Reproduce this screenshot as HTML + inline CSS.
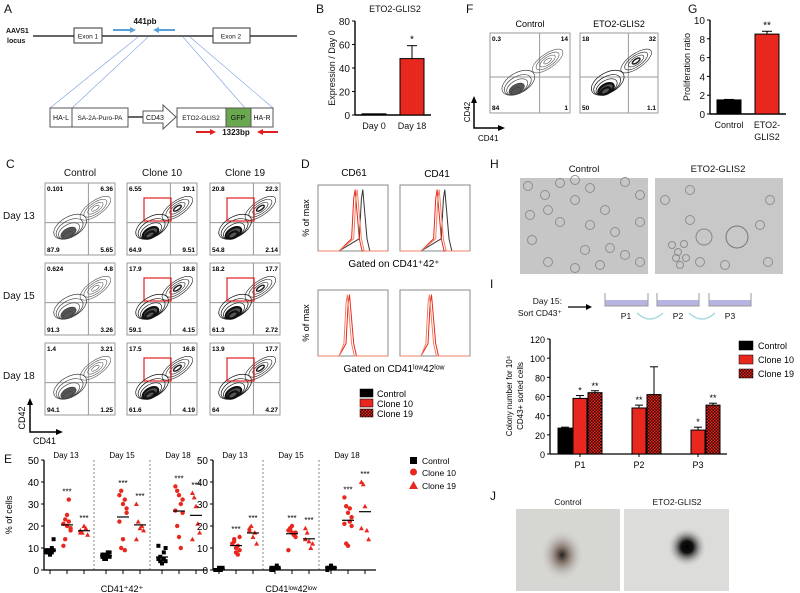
<!DOCTYPE html>
<html><head><meta charset="utf-8"><style>
body{margin:0;background:#fff;}
svg{display:block;font-family:"Liberation Sans",sans-serif;}
.t{fill:#111}
.lbl{font-size:12px;fill:#111}
</style></head><body>
<svg id="fig" width="800" height="593" viewBox="0 0 800 593">
<defs>
<pattern id="chk" width="3" height="3" patternUnits="userSpaceOnUse"><rect width="3" height="3" fill="#e8281f"/><rect width="1.5" height="1.5" fill="#300"/><rect x="1.5" y="1.5" width="1.5" height="1.5" fill="#300"/></pattern>
<radialGradient id="blob1"><stop offset="0" stop-color="#222"/><stop offset="0.25" stop-color="#7a6a60"/><stop offset="1" stop-color="#d8d8d6" stop-opacity="0"/></radialGradient>
<radialGradient id="blob2"><stop offset="0" stop-color="#000"/><stop offset="0.3" stop-color="#111"/><stop offset="1" stop-color="#ddd" stop-opacity="0"/></radialGradient>
</defs>

<!-- Panel A -->
<g>
<text x="4" y="13" class="lbl">A</text>
<text x="6" y="33" class="t" font-weight="bold" font-size="7">AAVS1</text>
<text x="7" y="43" class="t" font-weight="bold" font-size="7">locus</text>
<line x1="33" y1="36" x2="297" y2="36" stroke="#333" stroke-width="1.5"/>
<rect x="74" y="28" width="28" height="15" fill="#fff" stroke="#333"/><text x="88" y="38.5" class="t" text-anchor="middle" font-size="6.5">Exon 1</text>
<rect x="213" y="28" width="37" height="15" fill="#fff" stroke="#333"/><text x="231" y="38.5" class="t" text-anchor="middle" font-size="6.5">Exon 2</text>
<text x="145" y="24" class="t" font-weight="bold" text-anchor="middle" font-size="8">441pb</text>
<line x1="113" y1="30" x2="133" y2="30" stroke="#5aa0dc" stroke-width="2"/><polygon points="136,30 130,27 130,33" fill="#5aa0dc"/>
<line x1="157" y1="30" x2="175" y2="30" stroke="#5aa0dc" stroke-width="2"/><polygon points="153,30 159,27 159,33" fill="#5aa0dc"/>
<g stroke="#7fa0e0" stroke-width="0.6"><line x1="138" y1="37" x2="50" y2="108"/><line x1="148" y1="37" x2="72" y2="108"/><line x1="183" y1="37" x2="245" y2="108"/><line x1="190" y1="37" x2="273" y2="108"/></g>
<line x1="128" y1="117" x2="143" y2="117" stroke="#333" stroke-width="1.5"/>
<rect x="50" y="108" width="22" height="19" fill="#fff" stroke="#555"/><text x="61" y="120" class="t" text-anchor="middle" font-size="7">HA-L</text>
<rect x="72" y="108" width="56" height="19" fill="#fff" stroke="#555"/><text x="100" y="120" class="t" text-anchor="middle" font-size="6.5">SA-2A-Puro-PA</text>
<polygon points="143,111 163,111 163,105 176,117 163,129 163,123 143,123" fill="#fff" stroke="#555"/><text x="155" y="120" class="t" text-anchor="middle" font-size="7">CD43</text>
<rect x="177" y="108" width="49" height="19" fill="#fff" stroke="#555"/><text x="201" y="120" class="t" text-anchor="middle" font-size="6.5">ETO2-GLIS2</text>
<rect x="226" y="108" width="25" height="19" fill="#6aa84f" stroke="#555"/><text x="238" y="120" class="t" text-anchor="middle" font-size="7">GFP</text>
<rect x="251" y="108" width="22" height="19" fill="#fff" stroke="#555"/><text x="262" y="120" class="t" text-anchor="middle" font-size="7">HA-R</text>
<line x1="196" y1="132" x2="212" y2="132" stroke="#e02020" stroke-width="2"/><polygon points="216,132 210,129 210,135" fill="#e02020"/>
<line x1="262" y1="132" x2="278" y2="132" stroke="#e02020" stroke-width="2"/><polygon points="257,132 263,129 263,135" fill="#e02020"/>
<text x="236" y="135" class="t" font-weight="bold" text-anchor="middle" font-size="8">1323bp</text>
</g>

<g id="gB"><text x="316" y="13" class="lbl">B</text></g>
<g id="gC"><text x="6" y="168" class="lbl">C</text></g>
<g id="gD"><text x="301" y="168" class="lbl">D</text></g>
<g id="gE"><text x="4" y="463" class="lbl">E</text></g>
<g id="gF"><text x="466" y="13" class="lbl">F</text></g>
<g id="gG"><text x="688" y="13" class="lbl">G</text></g>

<!-- Panel H -->
<g>
<text x="490" y="168" class="lbl">H</text>
<text x="584" y="172" class="t" font-size="9.5" text-anchor="middle">Control</text>
<text x="718" y="172" class="t" font-size="9.5" text-anchor="middle">ETO2-GLIS2</text>
<rect x="520" y="178" width="128" height="96" fill="#c6c6c6"/>
<rect x="655" y="178" width="128" height="96" fill="#c8c8c8"/>
<g fill="none" stroke="#8e8e8e" stroke-width="1" id="cells"></g>
<circle cx="737" cy="237" r="11" fill="none" stroke="#777"/>
<circle cx="704" cy="237" r="8" fill="none" stroke="#888"/>
</g>

<!-- Panel I schematic -->
<g>
<text x="490" y="288" class="lbl">I</text>
<text x="562" y="304" class="t" font-size="8.5" text-anchor="end">Day 15:</text>
<text x="562" y="316" class="t" font-size="8.5" text-anchor="end">Sort CD43⁺</text>
<line x1="568" y1="307" x2="588" y2="307" stroke="#000" stroke-width="1.3"/><polygon points="592,307 586,304 586,310" fill="#000"/>
<rect x="605" y="300" width="43" height="6" fill="#b6b4e0"/><path d="M605,293 V306 H648 V293" fill="none" stroke="#999"/>
<rect x="657" y="300" width="42" height="6" fill="#b6b4e0"/><path d="M657,293 V306 H699 V293" fill="none" stroke="#999"/>
<rect x="709" y="300" width="42" height="6" fill="#b6b4e0"/><path d="M709,293 V306 H751 V293" fill="none" stroke="#999"/>
<text x="626" y="319" class="t" font-size="8.5" text-anchor="middle">P1</text><text x="678" y="319" class="t" font-size="8.5" text-anchor="middle">P2</text><text x="730" y="319" class="t" font-size="8.5" text-anchor="middle">P3</text>
<path d="M637,313 Q650,325 663,313" fill="none" stroke="#a8d8dc" stroke-width="1.5"/>
<path d="M689,313 Q702,325 715,313" fill="none" stroke="#a8d8dc" stroke-width="1.5"/>
</g>
<g id="gI"></g>

<!-- Panel J -->
<g>
<text x="490" y="500" class="lbl">J</text>
<text x="568" y="505" class="t" font-size="8.5" text-anchor="middle">Control</text>
<text x="677" y="505" class="t" font-size="8.5" text-anchor="middle">ETO2-GLIS2</text>
<rect x="516" y="509" width="104" height="82" fill="#d6d6d3"/>
<ellipse cx="562" cy="555" rx="22" ry="26" fill="url(#blob1)"/>
<rect x="624" y="509" width="105" height="82" fill="#dcdcda"/>
<circle cx="687" cy="547" r="20" fill="url(#blob2)"/>
</g>

<script>
const NS='http://www.w3.org/2000/svg';
function el(p,t,a,txt){const e=document.createElementNS(NS,t);for(const k in a)e.setAttribute(k,a[k]);if(txt!==undefined)e.textContent=txt;p.appendChild(e);return e;}

// ---- Panel B data
const bCats=['Day 0','Day 18'];
const bVals=[1,48];
const bErr=[0,11];
const bTicks=[0,20,40,60,80];
// ---- Panel G data
const gCats=['Control','ETO2-'];
const gVals=[1.5,8.5];
const gErr=[0.05,0.3];
const gTicks=[0,2,4,6,8,10];
// ---- Panel I data
const iCats=['P1','P2','P3'];
const iControl=[27,null,null];
const iClone10=[58,48,25];
const iClone19=[64,62,51];
const iErr10=[3,3,3];
const iErr19=[2,29,2];
const iStars10=['*','**','*'];
const iStars19=['**','',"**"];
const iTicks=[0,20,40,60,80,100,120];
// ---- Panel E data
const eDays=['Day 13','Day 15','Day 18'];
const eLeftCtrl=[[9,8,7,10,14,8,9,7,8,9],[6,7,5,8,6,7,5,6,7,8],[5,4,3,8,10,11,6,3,5,4]];
const eLeftC10=[[21,23,25,32,18,11,14,20,22,19],[34,36,30,32,26,22,10,14,9,28],[38,36,34,30,26,27,20,15,10,32]];
const eLeftC19=[[18,17,20,19,16,17],[30,22,19,20,18,14],[35,33,29,21,17,14]];
const eRightCtrl=[[0,0,1,0,1,0],[1,0,1,2,1,0],[1,1,2,1,1,0]];
const eRightC10=[[12,14,10,11,9,12,13,8,7,15],[18,19,17,16,15,9,18,20,16,17],[33,29,26,22,20,21,12,11,28,24]];
const eRightC19=[[19,20,15,17,12,18],[19,17,13,10,12,14],[40,39,29,18,14,19]];
const eTicks=[0,10,20,30,40,50];

function barChart(g,x0,yTop,yBot,max,ticks,cats,vals,errs,colors,stars,ylabel,title){
  const y=v=>yBot-(v/max)*(yBot-yTop);
  el(g,'line',{x1:x0,y1:yTop,x2:x0,y2:yBot,stroke:'#000','stroke-width':1.4});
  const w=cats.length*38;
  el(g,'line',{x1:x0,y1:yBot,x2:x0+w,y2:yBot,stroke:'#000','stroke-width':1.4});
  ticks.forEach(t=>{el(g,'line',{x1:x0-3,y1:y(t),x2:x0,y2:y(t),stroke:'#000'});
    const tl=el(g,'text',{x:x0-5,y:y(t)+4,'font-size':10,'text-anchor':'end',fill:'#111'},t);
    
    });
  cats.forEach((c,i)=>{const cx=x0+19+i*38;
    const b=el(g,'rect',{x:cx-12,y:y(vals[i]),width:24,height:yBot-y(vals[i]),fill:colors[i],stroke:'#000'});
    
    
    if(errs[i]){el(g,'line',{x1:cx,y1:y(vals[i]),x2:cx,y2:y(vals[i]+errs[i]),stroke:'#000'});
      el(g,'line',{x1:cx-5,y1:y(vals[i]+errs[i]),x2:cx+5,y2:y(vals[i]+errs[i]),stroke:'#000'});}
    if(stars[i])el(g,'text',{x:cx,y:y(vals[i]+errs[i])-3,'font-size':10,'text-anchor':'middle'},stars[i]);
    el(g,'text',{x:cx,y:yBot+14,'font-size':9,'text-anchor':'middle',fill:'#111'},c);});
  const yl=el(g,'text',{transform:`translate(${x0-20},${(yTop+yBot)/2}) rotate(-90)`,'font-size':9,'text-anchor':'middle',fill:'#111'},ylabel);
  
  
  if(title)el(g,'text',{x:x0+40,y:12,'font-size':9,'text-anchor':'middle',fill:'#111'},title);
}
barChart(document.getElementById('gB'),355,21,115,80,bTicks,bCats,bVals,bErr,['#000','#e8281f'],['','*'],'Expression / Day 0','ETO2-GLIS2');
barChart(document.getElementById('gG'),710,20,114,10,gTicks,gCats,gVals,gErr,['#000','#e8281f'],['','**'],'Proliferation ratio');
el(document.getElementById('gG'),'text',{x:767,y:140,'font-size':9,'text-anchor':'middle',fill:'#111'},'GLIS2');

// contour-style plot
function flow(g,x,y,w,h,nums,strong,diag){
  el(g,'rect',{x,y,width:w,height:h,fill:'#fff',stroke:'#999'});
  el(g,'line',{x1:x+w*0.62,y1:y,x2:x+w*0.62,y2:y+h,stroke:'#999'});
  el(g,'line',{x1:x,y1:y+h*0.55,x2:x+w,y2:y+h*0.55,stroke:'#999'});
  const cx=x+w*0.32,cy=y+h*0.75;
  for(let k=5;k>0;k--)el(g,'ellipse',{cx:cx+k*1.5,cy:cy-k*1.5,rx:k*3.2+2,ry:k*1.8+1,fill:k<3?'#555':'none',stroke:strong?'#111':'#444','stroke-width':strong&&k<3?2.2:0.7,transform:`rotate(-30 ${cx} ${cy})`});
  if(diag)for(let k=4;k>0;k--)el(g,'ellipse',{cx:x+w*0.72,cy:y+h*0.35,rx:k*4.5,ry:k*1.8,fill:'none',stroke:strong?'#222':'#555','stroke-width':strong&&k<2?1.5:0.6,transform:`rotate(-35 ${x+w*0.72} ${y+h*0.35})`});
  el(g,'text',{x:x+2,y:y+8,'font-size':6.5,'font-weight':'bold',fill:'#000'},nums[0]);
  el(g,'text',{x:x+w-2,y:y+8,'font-size':6.5,'font-weight':'bold','text-anchor':'end',fill:'#000'},nums[1]);
  el(g,'text',{x:x+2,y:y+h-3,'font-size':6.5,'font-weight':'bold',fill:'#000'},nums[2]);
  el(g,'text',{x:x+w-2,y:y+h-3,'font-size':6.5,'font-weight':'bold','text-anchor':'end',fill:'#000'},nums[3]);
}
const gC=document.getElementById('gC');
const cNums=[[['0.101','6.36','87.9','5.65'],['6.55','19.1','64.9','9.51'],['20.8','22.3','54.8','2.14']],
 [['0.624','4.8','91.3','3.26'],['17.9','18.8','59.1','4.15'],['18.2','17.7','61.3','2.72']],
 [['1.4','3.21','94.1','1.25'],['17.5','16.8','61.6','4.19'],['13.9','17.7','64','4.27']]];
const colX=[45,127,210];
['Control','Clone 10','Clone 19'].forEach((t,i)=>el(gC,'text',{x:colX[i]+35,y:176,'font-size':10,'text-anchor':'middle',fill:'#111'},t));
['Day 13','Day 15','Day 18'].forEach((d,r)=>{const by=183+r*80;el(gC,'text',{x:3,y:by+36,'font-size':10,fill:'#111'},d);
  for(let c=0;c<3;c++){const bx=colX[c];flow(gC,bx,by,70,72,cNums[r][c],c>0,true);
    if(c>0)el(gC,'rect',{x:bx+17,y:by+15,width:27,height:23,fill:'none',stroke:'#e02020','stroke-width':1.2});}});
el(gC,'path',{d:'M30,404 V432 H58',fill:'none',stroke:'#000','stroke-width':1.5});
el(gC,'polygon',{points:'30,398 27,405 33,405',fill:'#000'});el(gC,'polygon',{points:'63,432 56,429 56,435',fill:'#000'});
el(gC,'text',{transform:'translate(25,418) rotate(-90)','font-size':9,'text-anchor':'middle'},'CD42');
el(gC,'text',{x:33,y:444,'font-size':9},'CD41');

// Panel D
const gD=document.getElementById('gD');
el(gD,'text',{x:354,y:176,'font-size':10,'text-anchor':'middle'},'CD61');
el(gD,'text',{x:437,y:177,'font-size':10,'text-anchor':'middle'},'CD41');
function hist(x,y,w,h,p,col,sw){const pts=[[0.3,0],[p-0.05,0.2],[p-0.02,0.85],[p,1],[p+0.03,0.6],[p+0.06,0.2],[p+0.1,0],[1,0]];
 el(gD,'path',{d:`M${x},${y+h} `+pts.map(([a,b])=>`L${x+a*w},${y+h-b*h*0.93}`).join(' '),fill:'none',stroke:col,'stroke-width':sw||1});}
[[185,'Gated on CD41⁺42⁺',true,267],[290,'Gated on CD41ˡᵒʷ42ˡᵒʷ',false,372]].forEach(([y,lab,blk,ly])=>{
 [318,400].forEach(x=>{el(gD,'rect',{x,y,width:70,height:66,fill:'#fff',stroke:'#888'});
  if(blk){hist(x,y,70,66,0.64,'#333');hist(x,y,70,66,0.53,'#e8281f');hist(x,y,70,66,0.56,'#f08060');}
  else{hist(x,y,70,66,0.45,'#e8281f');hist(x,y,70,66,0.42,'#f08060');}});
 el(gD,'text',{transform:`translate(309,${y+33}) rotate(-90)`,'font-size':9,'text-anchor':'middle'},'% of max');
 el(gD,'text',{x:394,y:ly,'font-size':10,'text-anchor':'middle'},lab);});
[['#000','Control'],['#e8281f','Clone 10'],['url(#chk)','Clone 19']].forEach(([c,t],i)=>{
 el(gD,'rect',{x:360,y:389+i*10,width:13,height:8,fill:c,stroke:'#000','stroke-width':0.5});
 el(gD,'text',{x:377,y:397+i*10,'font-size':9}, t);});

// Panel E
const gE=document.getElementById('gE');
function eChart(x0,ctrl,c10,c19,xlabel){
  const yTop=460,yBot=570,y=v=>yBot-v/50*(yBot-yTop);
  el(gE,'line',{x1:x0,y1:yTop,x2:x0,y2:yBot,stroke:'#000','stroke-width':1.3});
  el(gE,'line',{x1:x0,y1:yBot,x2:x0+163,y2:yBot,stroke:'#000','stroke-width':1.3});
  eTicks.forEach(t=>{el(gE,'line',{x1:x0-3,y1:y(t),x2:x0,y2:y(t),stroke:'#000'});el(gE,'text',{x:x0-5,y:y(t)+4,'font-size':10,'text-anchor':'end'},t);});
  eDays.forEach((d,gi)=>{const gx=x0+gi*56;
    el(gE,'text',{x:gx+22,y:458,'font-size':8,'text-anchor':'middle'},d);
    if(gi>0)el(gE,'line',{x1:gx-6,y1:yTop,x2:gx-6,y2:yBot,stroke:'#333','stroke-dasharray':'2,2','stroke-width':0.6});
    [[ctrl,'#000','sq'],[c10,'#e8281f','ci'],[c19,'#e8281f','tr']].forEach(([arr,col,sh],si)=>{
      const cx=gx+6+si*17,vals=arr[gi];const mean=vals.reduce((a,b)=>a+b,0)/vals.length;
      el(gE,'line',{x1:cx,y1:yBot,x2:cx,y2:yBot+4,stroke:'#000'});
      vals.forEach((v,k)=>{const px=cx+((k%5)-2)*1.8,py=y(v);
        const m=sh==='sq'?el(gE,'rect',{x:px-2,y:py-2,width:4,height:4,fill:col}):sh==='ci'?el(gE,'circle',{cx:px,cy:py,r:2.2,fill:col}):el(gE,'polygon',{points:`${px},${py-2.5} ${px-2.5},${py+2} ${px+2.5},${py+2}`,fill:col});
        
        });
      el(gE,'line',{x1:cx-6,y1:y(mean),x2:cx+6,y2:y(mean),stroke:'#000','stroke-width':1.2});
      if(si>0){el(gE,'text',{x:cx,y:y(Math.max(...vals))-5,'font-size':8,'text-anchor':'middle'},'***');}
    });});
  el(gE,'text',{x:x0+78,y:592,'font-size':9,'text-anchor':'middle'},xlabel);
}
eChart(44,eLeftCtrl,eLeftC10,eLeftC19,'CD41⁺42⁺');
eChart(213,eRightCtrl,eRightC10,eRightC19,'CD41ˡᵒʷ42ˡᵒʷ');
el(gE,'text',{transform:'translate(12,515) rotate(-90)','font-size':9,'text-anchor':'middle'},'% of cells');
el(gE,'rect',{x:410,y:457,width:7,height:7,fill:'#000'});el(gE,'text',{x:422,y:464,'font-size':8.5},'Control');
el(gE,'circle',{cx:413.5,cy:472,r:3.5,fill:'#e8281f'});el(gE,'text',{x:422,y:476,'font-size':8.5},'Clone 10');
el(gE,'polygon',{points:'413.5,481 409,489 418,489',fill:'#e8281f'});el(gE,'text',{x:422,y:489,'font-size':8.5},'Clone 19');

// Panel F
const gF=document.getElementById('gF');
el(gF,'text',{x:530,y:27,'font-size':9,'text-anchor':'middle'},'Control');
el(gF,'text',{x:619,y:27,'font-size':9,'text-anchor':'middle'},'ETO2-GLIS2');
flow(gF,490,33,80,80,['0.3','14','84','1'],false,true);
flow(gF,580,33,78,80,['18','32','50','1.1'],true,true);
el(gF,'path',{d:'M474,102 V128 H500',fill:'none',stroke:'#000','stroke-width':1.5});
el(gF,'polygon',{points:'474,96 471,103 477,103'});el(gF,'polygon',{points:'505,128 498,125 498,131'});
el(gF,'text',{transform:'translate(470,112) rotate(-90)','font-size':8,'text-anchor':'middle'},'CD42');
el(gF,'text',{x:478,y:141,'font-size':8},'CD41');

// Panel H cells
const cells=document.getElementById('cells');
[[528,186],[545,195],[560,183],[575,200],[590,188],[605,210],[625,182],[640,195],[532,240],[548,262],[585,250],[600,265],[625,255],[560,222],[615,232],[640,262],[530,215],[575,180],[640,222],[548,210],[610,248],[575,268],[590,225],[665,200],[690,190],[770,200],[768,262],[700,262],[725,265],[690,220],[760,225]].forEach(([x,y])=>el(cells,'circle',{cx:x,cy:y,r:4.5}));
[[672,245],[678,252],[684,244],[676,258],[686,258],[680,265]].forEach(([x,y])=>el(cells,'circle',{cx:x,cy:y,r:3.5}));

// Panel I chart
const gI=document.getElementById('gI');
(function(){const x0=550,yTop=339,yBot=454,y=v=>yBot-v/120*(yBot-yTop);
 el(gI,'line',{x1:x0,y1:yTop,x2:x0,y2:yBot,stroke:'#000','stroke-width':1.3});
 el(gI,'line',{x1:x0,y1:yBot,x2:727,y2:yBot,stroke:'#000','stroke-width':1.3});
 iTicks.forEach(t=>{el(gI,'line',{x1:x0-3,y1:y(t),x2:x0,y2:y(t),stroke:'#000'});el(gI,'text',{x:x0-5,y:y(t)+4,'font-size':9,'text-anchor':'end'},t);});
 el(gI,'text',{transform:'translate(512,396) rotate(-90)','font-size':8,'text-anchor':'middle'},'Colony number for 10⁴');
 el(gI,'text',{transform:'translate(523,396) rotate(-90)','font-size':8,'text-anchor':'middle'},'CD43+ sorted cells');
 iCats.forEach((c,i)=>{const cx=580+i*59;
  el(gI,'text',{x:cx,y:yBot+14,'font-size':9,'text-anchor':'middle'},c);
  el(gI,'line',{x1:cx,y1:yBot,x2:cx,y2:yBot+3,stroke:'#000'});
  [[iControl[i],'#000',null,'',-15],[iClone10[i],'#e8281f',iErr10[i],iStars10[i],0],[iClone19[i],'url(#chk)',iErr19[i],iStars19[i],15]].forEach(([v,col,er,st,dx],si)=>{
   if(v==null)return;const bx=cx+dx;
   const b=el(gI,'rect',{x:bx-7,y:y(v),width:14,height:yBot-y(v),fill:col,stroke:'#000'});
   
   
   const e=er||1;el(gI,'line',{x1:bx,y1:y(v),x2:bx,y2:y(v+e),stroke:'#000'});el(gI,'line',{x1:bx-4,y1:y(v+e),x2:bx+4,y2:y(v+e),stroke:'#000'});
   if(st)el(gI,'text',{x:bx,y:y(v+e)-2,'font-size':9,'text-anchor':'middle'},st);});});
 [['#000','Control'],['#e8281f','Clone 10'],['url(#chk)','Clone 19']].forEach(([c,t],k)=>{
  el(gI,'rect',{x:739,y:341+k*14,width:14,height:9,fill:c,stroke:'#000','stroke-width':0.5});
  el(gI,'text',{x:758,y:349+k*14,'font-size':9},t);});
})();
</script>
</svg>
</body></html>
